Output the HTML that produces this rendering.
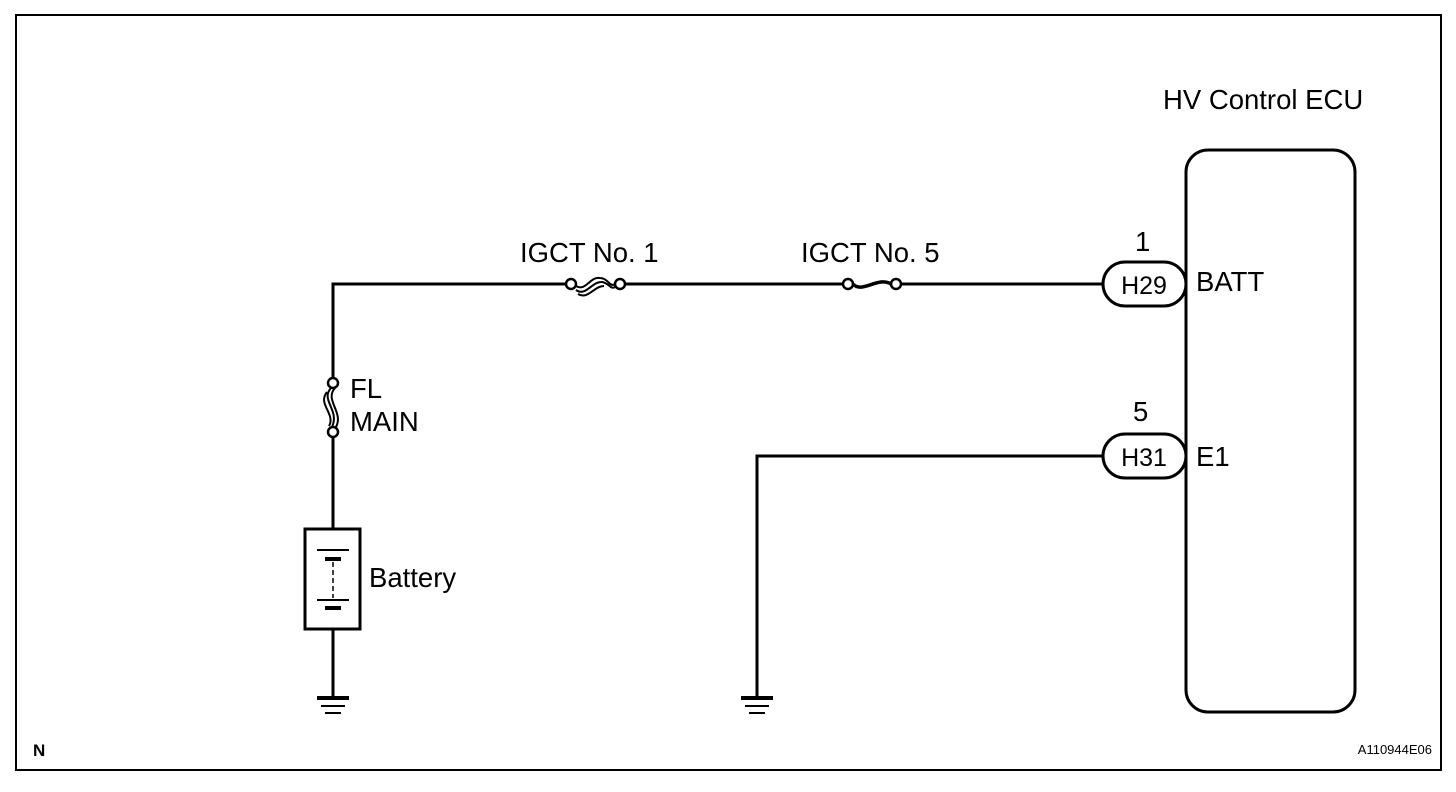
<!DOCTYPE html>
<html><head><style>body{margin:0;background:#fff}svg{display:block}</style></head><body>
<svg width="1456" height="792" xmlns="http://www.w3.org/2000/svg" font-family="Liberation Sans, Arial, sans-serif">
<rect x="16" y="15" width="1425" height="755" fill="none" stroke="#000" stroke-width="2"/>
<g stroke="#000" stroke-width="3" fill="none">
<rect x="1186" y="150" width="169" height="562" rx="22"/>
<polyline points="333,378 333,284 566,284"/>
<line x1="626" y1="284" x2="843" y2="284"/>
<line x1="901" y1="284" x2="1103" y2="284"/>
<rect x="1103" y="262" width="83" height="44" rx="22"/>
<rect x="1103" y="434" width="83" height="44" rx="22"/>
<polyline points="1103,456 757,456 757,697"/>
<line x1="333" y1="437" x2="333" y2="529"/>
<rect x="305" y="529" width="55" height="100"/>
<line x1="333" y1="629" x2="333" y2="697"/>
</g>
<g stroke="#000" stroke-width="2.5" fill="#fff">
<circle cx="571" cy="284" r="5"/><circle cx="620" cy="284" r="5"/>
<circle cx="848" cy="284" r="5"/><circle cx="896" cy="284" r="5"/>
<circle cx="333" cy="383" r="5"/><circle cx="333" cy="432" r="5"/>
</g>
<g stroke="#000" stroke-width="2" fill="none">
<path d="M576,286 C586,292 590,276 600,278 C608,278 610,288 615,284"/>
<path d="M576,290 C586,297 592,281 602,282 C609,283 611,290 615,287"/>
<path d="M578,294 C588,300 594,286 604,286"/>
<path d="M331,388 C320,400 340,410 332,427"/>
<path d="M335,388 C324,400 344,412 336,427"/>
<path d="M327,392 C317,404 336,414 329,426"/>
</g>
<path d="M853,284 C862,294 878,276 891,284" stroke="#000" stroke-width="3.5" fill="none"/>
<g stroke="#000">
<line x1="317" y1="550" x2="349" y2="550" stroke-width="2"/>
<line x1="325" y1="559" x2="341" y2="559" stroke-width="4"/>
<line x1="333" y1="562" x2="333" y2="598" stroke-width="1.5" stroke-dasharray="5,3"/>
<line x1="317" y1="600" x2="349" y2="600" stroke-width="2"/>
<line x1="325" y1="608" x2="341" y2="608" stroke-width="4"/>
<line x1="317" y1="698" x2="349" y2="698" stroke-width="4"/>
<line x1="321" y1="706" x2="345" y2="706" stroke-width="2"/>
<line x1="325" y1="713" x2="341" y2="713" stroke-width="2"/>
<line x1="741" y1="698" x2="773" y2="698" stroke-width="4"/>
<line x1="745" y1="706" x2="769" y2="706" stroke-width="2"/>
<line x1="749" y1="713" x2="765" y2="713" stroke-width="2"/>
</g>
<g font-size="27.5" fill="#000">
<text x="1163" y="109">HV Control ECU</text>
<text x="520" y="262">IGCT No. 1</text>
<text x="801" y="262">IGCT No. 5</text>
<text x="1135" y="251">1</text>
<text x="1133" y="421">5</text>
<text x="1144" y="294" text-anchor="middle" font-size="25">H29</text>
<text x="1144" y="466" text-anchor="middle" font-size="25">H31</text>
<text x="1196" y="291">BATT</text>
<text x="1196" y="466">E1</text>
<text x="350" y="398">FL</text>
<text x="350" y="431">MAIN</text>
<text x="369" y="587">Battery</text>
<text x="33" y="756" font-size="17" font-weight="bold">N</text>
<text x="1432" y="754" font-size="13" text-anchor="end">A110944E06</text>
</g>
</svg>
</body></html>
